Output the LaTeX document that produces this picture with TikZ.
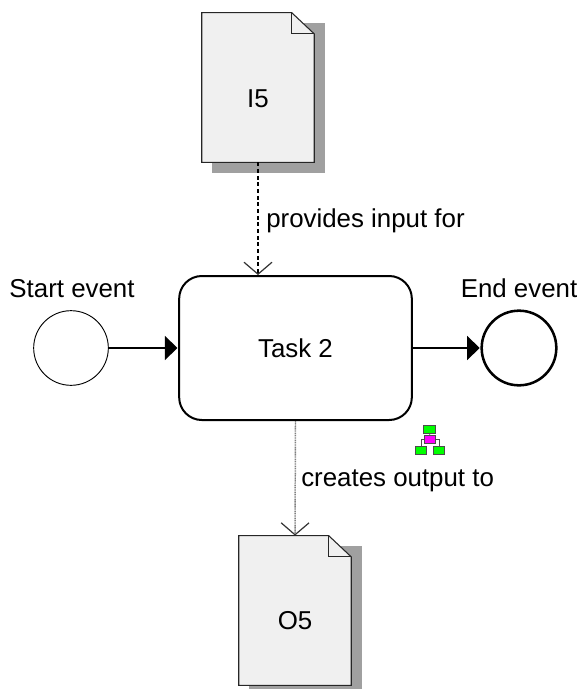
\documentclass[tikz,border=0pt]{standalone}
\usepackage{fontspec}
\setmainfont{Liberation Sans}
\usetikzlibrary{arrows.meta}
\definecolor{docfill}{HTML}{F0F0F0}
\definecolor{docshadow}{HTML}{A0A0A0}
\definecolor{orggreen}{HTML}{00FF00}
\definecolor{orgpink}{HTML}{FF00FF}
\tikzset{
    every node/.style={font=\fontsize{19.4}{23}\selectfont},
    docbox/.style={minimum width=84pt,minimum height=112pt,inner sep=0pt},
    eventbox/.style={circle,draw,fill=white,minimum size=56pt,inner sep=0pt},
    textlabel/.style={anchor=base,inner sep=0pt},
    flow/.style={line width=1.3pt,-{Triangle[length=9.5pt,width=18pt]},shorten >=0.5pt},
    assoc/.style={-{Straight Barb[length=9pt,width=21pt,line width=0.9pt,color=black!80]}},
    orgbox/.style={draw=black!70,line width=0.6pt,inner sep=0pt,minimum width=8.5pt,minimum height=6pt},
    orgline/.style={line width=0.6pt,black!70}
}
\newcommand{\docsheet}[1]{
    \fill[docshadow] ([shift={(8pt,-8pt)}]#1.north west) -- ([shift={(8pt,-8pt)}]#1.north east) -- ([shift={(8pt,-8pt)}]#1.south east) -- ([shift={(8pt,-8pt)}]#1.south west) -- cycle;
    \draw[fill=docfill,line width=0.8pt,draw=black!85] (#1.north west) -- ([xshift=-17pt]#1.north east) -- ([yshift=-16pt]#1.north east) -- (#1.south east) -- (#1.south west) -- cycle;
    \draw[line width=0.8pt,draw=black!85] ([xshift=-17pt]#1.north east) -- ([xshift=-17pt,yshift=-16pt]#1.north east) -- ([yshift=-16pt]#1.north east);
}
\begin{document}
\begin{tikzpicture}[x=0.75pt,y=-0.75pt]
        \useasboundingbox (0,0) rectangle (579,689);
        % documents
        \node[docbox] (I5) at (258,87.5) {};
        \node[docbox] (O5) at (295,610.5) {};
        \docsheet{I5}
        \docsheet{O5}
        \node[textlabel] at (258,107) {I5};
        \node[textlabel] at (295,629) {O5};
        % task and events
        \node[draw,line width=1.5pt,rounded corners=17pt,minimum width=174.5pt,minimum height=108pt] (task) at (295.5,348) {Task 2};
        \node[eventbox,line width=0.7pt] (start) at (71,348) {};
        \node[eventbox,line width=1.9pt] (end) at (519,348) {};
        \node[textlabel] at (72,297) {Start event};
        \node[textlabel] at (519,297) {End event};
        % connectors
        \draw[flow] (start) -- (task);
        \draw[flow] (task) -- (end);
        \draw[assoc,line width=1.3pt,dash pattern=on 3pt off 2pt] (I5.south) -- (I5.south |- task.north);
        \draw[assoc,line width=1.1pt,gray,dash pattern=on 0.8pt off 0.5pt] (task.south) -- (O5.north);
        \node[textlabel,anchor=base west] at (266,227) {provides input for};
        \node[textlabel,anchor=base west] at (301,486) {creates output to};
        % small tree icon
        \node[orgbox,fill=orggreen] (orgtop) at (429.5,429) {};
        \node[orgbox,fill=orgpink] (orgmid) at (430,439.5) {};
        \node[orgbox,fill=orggreen] (orgleft) at (421,450.5) {};
        \node[orgbox,fill=orggreen] (orgright) at (439,450.5) {};
        \draw[orgline] (orgtop) -- (orgmid);
        \draw[orgline] (orgmid.west) -| (orgleft.north);
        \draw[orgline] (orgmid.east) -| (orgright.north);
    \end{tikzpicture}
\end{document}
